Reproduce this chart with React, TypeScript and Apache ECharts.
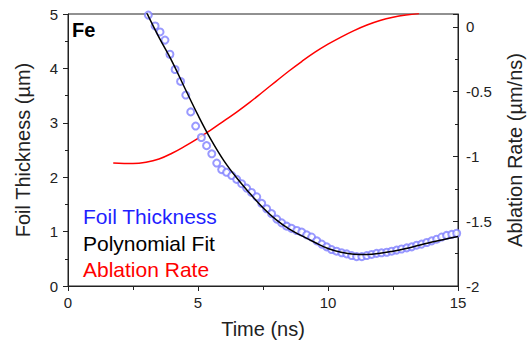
import React, { useEffect, useRef } from "react";
import * as echarts from "echarts";

// Foil thickness measurements [time ns, thickness µm]
const thicknessData: [number, number][] = [
  [3.09, 4.98], [3.35, 4.78], [3.54, 4.67], [3.73, 4.52], [3.92, 4.26],
  [4.12, 3.98], [4.33, 3.76], [4.53, 3.51], [4.72, 3.2], [4.91, 2.94],
  [5.13, 2.73], [5.33, 2.58], [5.53, 2.43], [5.72, 2.26], [5.91, 2.14],
  [6.1, 2.09], [6.3, 2.03], [6.49, 1.96], [6.68, 1.88], [6.87, 1.8],
  [7.06, 1.72], [7.26, 1.64], [7.45, 1.52], [7.64, 1.42], [7.83, 1.33],
  [8.03, 1.23], [8.22, 1.16], [8.41, 1.1], [8.6, 1.06], [8.8, 1.02],
  [8.99, 0.99], [9.18, 0.94], [9.37, 0.9], [9.57, 0.83], [9.76, 0.77],
  [9.95, 0.72], [10.14, 0.67], [10.33, 0.64], [10.53, 0.61], [10.72, 0.59],
  [10.91, 0.56], [11.1, 0.54], [11.3, 0.54], [11.49, 0.56], [11.68, 0.58],
  [11.87, 0.6], [12.06, 0.61], [12.26, 0.62], [12.45, 0.64], [12.64, 0.66],
  [12.83, 0.68], [13.03, 0.7], [13.22, 0.72], [13.41, 0.75], [13.6, 0.77],
  [13.8, 0.8], [13.99, 0.83], [14.18, 0.86], [14.37, 0.9], [14.56, 0.93],
  [14.76, 0.95], [14.95, 0.97],
];

// Polynomial fit [time ns, thickness µm]
const fitData: [number, number][] = [
  [3.0, 5.05], [3.5, 4.57], [4.0, 4.13], [4.5, 3.63], [5.0, 3.14],
  [5.5, 2.69], [6.0, 2.3], [6.5, 1.98], [7.0, 1.7], [7.5, 1.44],
  [8.0, 1.22], [8.5, 1.05], [9.0, 0.92], [9.5, 0.8], [10.0, 0.69],
  [10.5, 0.62], [11.0, 0.585], [11.5, 0.58], [12.0, 0.6], [12.5, 0.64],
  [13.0, 0.69], [13.5, 0.75], [14.0, 0.81], [14.5, 0.86], [15.0, 0.91],
];

// Ablation rate [time ns, rate µm/ns]
const rateData: [number, number][] = [
  [1.74, -1.05], [2.5, -1.055], [3.0, -1.045], [3.5, -1.02], [4.0, -0.975],
  [4.5, -0.92], [5.0, -0.86], [5.5, -0.795], [6.0, -0.725], [6.5, -0.655],
  [7.0, -0.58], [7.5, -0.5], [8.0, -0.42], [8.5, -0.34], [9.0, -0.265],
  [9.5, -0.195], [10.0, -0.133], [10.5, -0.078], [11.0, -0.028],
  [11.5, 0.015], [12.0, 0.05], [12.5, 0.075], [13.0, 0.092], [13.5, 0.103],
];

const legendItems = [
  { label: "Foil Thickness", color: "#1f1fff" },
  { label: "Polynomial Fit", color: "#000000" },
  { label: "Ablation Rate", color: "#ff0000" },
];

const FONT = '"Liberation Sans", Arial, sans-serif';
const AXIS_COLOR = "#222";

export default function App() {
  const ref = useRef<HTMLDivElement>(null);

  useEffect(() => {
    if (!ref.current) return;
    const chart = echarts.init(ref.current, undefined, { renderer: "svg" });
    const axisCommon = {
      axisLine: { show: true, lineStyle: { color: AXIS_COLOR, width: 1 } },
      splitLine: { show: false },
      axisLabel: { color: AXIS_COLOR, fontSize: 15, fontFamily: FONT },
      nameTextStyle: { color: AXIS_COLOR, fontSize: 20, fontFamily: FONT },
    };
    chart.setOption({
      animation: false,
      backgroundColor: "#fff",
      grid: {
        left: 68,
        right: 71,
        top: 14,
        bottom: 66,
        containLabel: false,
        outerBoundsMode: "none",
        show: true,
        borderColor: AXIS_COLOR,
        borderWidth: 1,
      },
      xAxis: {
        type: "value",
        min: 0,
        max: 15,
        interval: 5,
        ...axisCommon,
        axisTick: { show: true, inside: false, length: 5, lineStyle: { color: AXIS_COLOR } },
        minorTick: { show: true, splitNumber: 2, length: 4, lineStyle: { color: AXIS_COLOR } },
        axisLabel: { ...axisCommon.axisLabel, margin: 9 },
        name: "Time (ns)",
        nameLocation: "middle",
        nameGap: 33,
      },
      yAxis: [
        {
          type: "value",
          position: "left",
          min: 0,
          max: 5,
          interval: 1,
          ...axisCommon,
          axisTick: { show: true, inside: false, length: 5, lineStyle: { color: AXIS_COLOR } },
          minorTick: { show: true, splitNumber: 2, length: 3, lineStyle: { color: AXIS_COLOR } },
          axisLabel: { ...axisCommon.axisLabel, margin: 10 },
          name: "Foil Thickness (µm)",
          nameLocation: "middle",
          nameRotate: 90,
          nameGap: 35,
        },
        {
          type: "value",
          position: "right",
          min: -2,
          max: 0.1,
          interval: 0.5,
          ...axisCommon,
          axisTick: { show: true, inside: true, length: 5, lineStyle: { color: AXIS_COLOR } },
          minorTick: { show: true, splitNumber: 2, length: 3, lineStyle: { color: AXIS_COLOR } },
          axisLabel: { ...axisCommon.axisLabel, margin: 8, showMaxLabel: false },
          name: "Ablation Rate (µm/ns)",
          nameLocation: "middle",
          nameRotate: 90,
          nameGap: 47,
        },
      ],
      graphic: [
        {
          type: "text",
          left: 72,
          top: 20,
          style: { text: "Fe", font: `bold 20px ${FONT}`, fill: "#000" },
        },
        ...legendItems.map((item, i) => ({
          type: "text",
          left: 83,
          top: 206 + i * 26.5,
          style: { text: item.label, font: `21px ${FONT}`, fill: item.color },
        })),
      ],
      series: [
        {
          name: "Ablation Rate",
          type: "line",
          yAxisIndex: 1,
          data: rateData,
          showSymbol: false,
          smooth: 0.4,
          lineStyle: { color: "#ff0000", width: 1.5 },
          clip: true,
          z: 2,
        },
        {
          name: "Foil Thickness",
          type: "scatter",
          yAxisIndex: 0,
          data: thicknessData,
          symbol: "emptyCircle",
          symbolSize: 7,
          itemStyle: { color: "#8080ff", borderColor: "#8080ff", borderWidth: 0.9 },
          z: 3,
        },
        {
          name: "Polynomial Fit",
          type: "line",
          yAxisIndex: 0,
          data: fitData,
          showSymbol: false,
          smooth: 0.4,
          lineStyle: { color: "#000000", width: 1.5 },
          clip: true,
          z: 4,
        },
      ],
    });
    return () => chart.dispose();
  }, []);

  return (
    <div
      ref={ref}
      style={{ position: "fixed", left: 0, top: 0, width: 529, height: 352 }}
    />
  );
}
